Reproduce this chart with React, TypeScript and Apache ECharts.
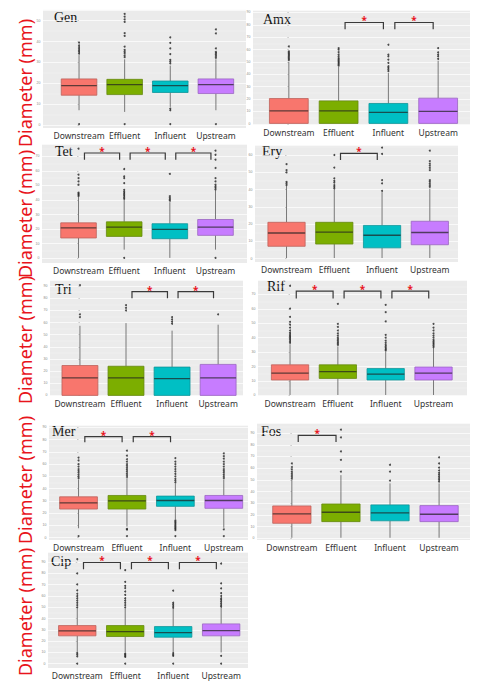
import React, { useEffect, useRef } from "react";
import * as echarts from "echarts";

const CATEGORIES = ["Downstream", "Effluent", "Influent", "Upstream"];
const PANEL_NAMES = ["Gen", "Amx", "Tet", "Ery", "Tri", "Rif", "Mer", "Fos", "Cip"];
const Y_LABEL = "Diameter (mm)";

// box stats per category: [low whisker, Q1, median, Q3, high whisker]
const GEN_BOX = [[7.1, 14.3, 18.9, 22.1, 33.5], [6.3, 14.6, 19.4, 21.9, 31.5], [8.7, 15.6, 18.9, 21.1, 28.5], [7.1, 15.1, 19.4, 22.1, 31.5]];
const GEN_OUT = [[0.5, 34.2, 35, 35.8, 36.5, 37.3, 38.2, 39.5], [0.5, 32.5, 33.4, 34.4, 35.2, 36, 37.6, 42.7, 44, 49.4, 50.6, 51.9, 53.2], [0.5, 7.1, 7.9, 29.5, 30.4, 31.2, 34, 36.7, 39.4, 42], [0.5, 32.2, 33, 33.7, 34.4, 35, 36.7, 43.9, 45.8]];
const GEN_SIG: number[][] = [];
const GEN_Y = [-1.4, 55.1];

const AMX_BOX = [[0.3, 0.3, 10.5, 20.4, 50], [0.3, 0.3, 10.5, 18.5, 46], [0.3, 0.3, 9.2, 16.4, 41], [0.3, 0.3, 10, 20.7, 51]];
const AMX_OUT = [[51.5, 52.5, 53.5, 54.5, 55.5, 56.5, 57.5, 58.5, 62.5], [47, 48, 49, 50, 51, 52, 53, 54.5, 56, 58, 59.9, 61.2], [42.5, 43.9, 45.2, 46.5, 49.2, 51.9, 54.5, 55.9, 63.9], [52.4, 54.5, 55.9, 57.7, 61.2]];
const AMX_SIG = [[1, 81.9, 76.5], [2, 81.9, 76.5]];
const AMX_Y = [-1, 92];

const TET_BOX = [[0.2, 13.9, 20.9, 24.3, 42], [5.9, 15, 21.4, 25, 40], [0.2, 13.4, 19.8, 23.7, 38.5], [5.9, 15.7, 21.4, 26.6, 46.5]];
const TET_OUT = [[42.7, 43.5, 44.3, 45, 50.5, 52.8, 55, 57.4, 75.3], [0.2, 40.8, 41.8, 42.8, 43.8, 44.8, 45.8, 47, 51.6, 55, 56.3, 61.3], [39.5, 40.5, 41.5, 42.7, 57.9], [0.2, 47.2, 48.3, 49.4, 50.5, 52.8, 55, 62, 67.7, 71.1, 73.9]];
const TET_SIG = [[0, 72.3, 67.7], [1, 72.3, 67.7], [2, 72.3, 67.7]];
const TET_Y = [-3.3, 78.5];

const ERY_BOX = [[0.3, 7.1, 14.8, 21, 42], [0.3, 8.4, 15.3, 21, 40], [0.3, 6.2, 13.5, 19.2, 38.5], [0.3, 8, 15.1, 21.6, 40.5]];
const ERY_OUT = [[42.6, 43.5, 44.4, 49.9, 51.2, 54.7], [40.6, 41.6, 42.6, 44, 45, 46.5, 52.7, 60], [39.2, 43.6, 45.5, 60.6, 64.3], [41.6, 42.6, 43.6, 44.6, 45.5, 51.2, 52.5, 53.8, 55, 56.5, 62.5]];
const ERY_SIG = [[1, 61, 57.1]];
const ERY_Y = [-2, 65.8];

const TRI_BOX = [[0, 0, 14.4, 24.6, 57.3], [0, 0, 14.4, 24, 59.5], [0, 0, 13.8, 23.3, 53.3], [0, 0, 14.4, 25.5, 58.2]];
const TRI_OUT = [[64.5, 66.7, 90.7], [69.9, 72.1, 74.3], [59, 60.7, 62.5, 64.5], [66.7]];
const TRI_SIG = [[1, 85.5, 80], [2, 85.5, 80]];
const TRI_Y = [-0.5, 95];

const RIF_BOX = [[0.3, 10.7, 15.5, 21.2, 35.5], [0.3, 11.8, 16.5, 21.2, 34], [0.3, 10.7, 14.8, 18.6, 30.5], [0.3, 10.7, 15.5, 19.7, 33]];
const RIF_OUT = [[36.5, 37.5, 38.5, 39.5, 40.5, 41.5, 42.5, 43.5, 45, 47, 49, 51, 54.5, 60.2, 76], [35, 36, 37, 38, 39, 40, 41.5, 43, 45, 47.5, 49.6, 63.5], [31.2, 32, 33, 34, 35, 36.5, 38, 40, 42, 51.3, 57.7, 62.8], [33.5, 34.5, 35.5, 36.5, 37.5, 38.5, 40, 41.5, 43, 45, 47, 49.6]];
const RIF_SIG = [[0, 72.3, 67.2], [1, 72.3, 67.2], [2, 72.3, 67.2]];
const RIF_Y = [-0.4, 80];

const MER_BOX = [[7.6, 23.3, 28.3, 33.3, 47.5], [9, 23.3, 30, 34.4, 48.5], [15, 25.5, 30.3, 33.9, 44], [8, 23.9, 30.3, 34.4, 47.5]];
const MER_OUT = [[1.2, 48.5, 50, 51.5, 53, 54.5, 56, 58, 60, 63, 65.4], [1.2, 6.5, 7, 49.5, 51, 52.5, 54, 55.5, 57, 58.5, 60, 62, 64, 66.9, 71], [1.2, 6, 7, 8, 9, 10, 11, 12, 13, 14, 45, 46.5, 48, 50, 52, 54, 56, 58, 60, 62, 65], [1.2, 6.7, 48.5, 50, 51.5, 53, 54.5, 56, 58, 60, 62, 64.5, 66.5, 68.8]];
const MER_SIG = [[0, 82.5, 77.8], [1, 82.5, 77.8]];
const MER_Y = [-2, 92];

const FOS_BOX = [[0.5, 12.9, 20.9, 27.7, 50], [0.5, 14.3, 22.3, 29.4, 54], [0.5, 15, 21.7, 28.6, 47], [0.5, 14.3, 20.6, 28, 47]];
const FOS_OUT = [[51, 52.5, 54, 55.5, 57, 59, 61, 64], [57.1, 67.1, 74.3, 86.3, 92.9], [49.4, 57.1, 62.9], [48.5, 50, 51.5, 53, 54.5, 56, 58, 60.5, 64, 69.3]];
const FOS_SIG = [[0, 88, 82.3]];
const FOS_Y = [-1.4, 98.6];

const CIP_BOX = [[10, 24.7, 29.1, 33.8, 49], [10, 24.1, 28.5, 33.8, 49], [10, 23.5, 27.6, 32.9, 48.5], [10, 24.7, 29.4, 35.3, 49.5]];
const CIP_OUT = [[0, 6.5, 8, 9.4, 50, 52, 54, 56, 58, 60, 62, 65, 70.3, 80, 92.6], [0, 6, 7, 8, 9, 50, 52, 54, 56, 58, 61, 64, 67, 69, 72.6, 83], [0, 7, 8, 9.4, 49.5, 51, 52.5, 54, 64.7], [0, 7, 50.5, 52, 53.5, 55, 56.5, 58, 60, 62.5, 66.8, 71.2, 88.8]];
const CIP_SIG = [[0, 89.7, 83.8], [1, 89.7, 83.8], [2, 89.7, 83.8]];
const CIP_Y = [-3.8, 99];

const BOXES = [GEN_BOX, AMX_BOX, TET_BOX, ERY_BOX, TRI_BOX, RIF_BOX, MER_BOX, FOS_BOX, CIP_BOX];
const OUTLIERS = [GEN_OUT, AMX_OUT, TET_OUT, ERY_OUT, TRI_OUT, RIF_OUT, MER_OUT, FOS_OUT, CIP_OUT];
const SIGS = [GEN_SIG, AMX_SIG, TET_SIG, ERY_SIG, TRI_SIG, RIF_SIG, MER_SIG, FOS_SIG, CIP_SIG];
const Y_RANGES = [GEN_Y, AMX_Y, TET_Y, ERY_Y, TRI_Y, RIF_Y, MER_Y, FOS_Y, CIP_Y];

// layout (pixels): [left, top, right, bottom]
const RECTS = [
  [43, 10, 246, 128], [253, 10, 470, 125],
  [42, 144, 247, 263], [255, 145, 458, 262],
  [50, 280, 243, 396], [258, 280, 467, 396],
  [49, 425, 248, 540], [257, 423, 470, 540],
  [48, 552, 248, 668],
];
const X_RANGES = [
  [-0.79, 3.66], [-0.72, 3.64], [-0.8, 3.69], [-0.66, 3.59], [-0.65, 3.54],
  [-0.67, 3.7], [-0.61, 3.5], [-0.71, 3.63], [-0.61, 3.56],
];
const TITLE_OFFSETS = [[11, 0], [10, 2], [13, 0], [7, -1], [5, 2], [9, -1], [3, -1], [4, 1], [3, 2]];
const YLABEL_CENTERS = [83, 214, 340, 480, 612];

const FILLS = ["#F8766D", "#7CAE00", "#00BFC4", "#C77CFF"];
const RED = "#e8141c";

function mix(a: string, b: string, t: number) {
  const p = (h: string) => [1, 3, 5].map((i) => parseInt(h.slice(i, i + 2), 16));
  const pa = p(a), pb = p(b);
  const c = pa.map((v, i) => Math.round(v * (1 - t) + pb[i] * t));
  return `rgb(${c[0]},${c[1]},${c[2]})`;
}

function buildOption() {
  const grid: any[] = [];
  const xAxis: any[] = [];
  const yAxis: any[] = [];
  const series: any[] = [];
  const graphic: any[] = [];

  PANEL_NAMES.forEach((name, i) => {
    const [l, t, r, b] = RECTS[i];
    grid.push({ left: l, top: t, width: r - l, height: b - t, show: true, backgroundColor: "#ebebeb", borderWidth: 0 });
    xAxis.push({
      type: "value", gridIndex: i, min: X_RANGES[i][0], max: X_RANGES[i][1], splitNumber: 4,
      axisLine: { show: false }, axisTick: { show: false }, splitLine: { show: false },
      axisLabel: {
        showMinLabel: false, showMaxLabel: false, margin: 2, fontSize: 8.5, color: "#333333",
        fontFamily: "Noto Sans", lineHeight: 10,
        formatter: (v: number) => {
          const k = Math.round(v);
          return Math.abs(v - k) < 1e-6 && k >= 0 && k < CATEGORIES.length ? CATEGORIES[k] : "";
        },
      },
    });
    const span = Y_RANGES[i][1] - Y_RANGES[i][0];
    yAxis.push({
      type: "value", gridIndex: i, min: Y_RANGES[i][0], max: Y_RANGES[i][1], splitNumber: Math.round(span / 10),
      axisLine: { show: false },
      axisTick: { show: true, length: 1.5, lineStyle: { color: "#9a9a9a", width: 0.5 } },
      axisLabel: { inside: false, fontSize: 3.5, color: "#8a8a8a", margin: 2.5, showMinLabel: false, showMaxLabel: false },
      splitLine: { show: true, lineStyle: { color: "#ffffff", width: 0.7 } },
      minorTick: { show: false, splitNumber: 2 },
      minorSplitLine: { show: true, lineStyle: { color: "#f6f6f6", width: 0.4 } },
    });

    series.push({
      type: "custom", xAxisIndex: i, yAxisIndex: i, silent: true,
      data: BOXES[i].map((s, c) => [c, ...s]),
      encode: { x: 0, y: [1, 2, 3, 4, 5] },
      renderItem: (params: any, api: any) => {
        const x = api.value(0);
        const c = params.dataIndex;
        const pl = api.coord([x, api.value(1)]);
        const p1 = api.coord([x, api.value(2)]);
        const pm = api.coord([x, api.value(3)]);
        const p3 = api.coord([x, api.value(4)]);
        const ph = api.coord([x, api.value(5)]);
        const w = api.size([0.78, 0])[0];
        const wh = { stroke: "#5a5a5a", lineWidth: 0.8 };
        return {
          type: "group",
          children: [
            { type: "line", shape: { x1: pl[0], y1: pl[1], x2: p1[0], y2: p1[1] }, style: wh },
            { type: "line", shape: { x1: p3[0], y1: p3[1], x2: ph[0], y2: ph[1] }, style: wh },
            {
              type: "rect",
              shape: { x: pm[0] - w / 2, y: p3[1], width: w, height: p1[1] - p3[1] },
              style: { fill: FILLS[c], stroke: mix(FILLS[c], "#333333", 0.3), lineWidth: 0.8 },
            },
            {
              type: "line",
              shape: { x1: pm[0] - w / 2, y1: pm[1], x2: pm[0] + w / 2, y2: pm[1] },
              style: { stroke: mix(FILLS[c], "#222222", 0.72), lineWidth: 1.3 },
            },
          ],
        };
      },
    });

    series.push({
      type: "scatter", xAxisIndex: i, yAxisIndex: i, silent: true,
      symbolSize: 2, itemStyle: { color: "#222222" },
      data: OUTLIERS[i].flatMap((vals, c) => vals.map((v) => [c, v])),
    });

    if (SIGS[i].length) {
      series.push({
        type: "custom", xAxisIndex: i, yAxisIndex: i, silent: true,
        data: SIGS[i],
        encode: { x: 0, y: [1, 2] },
        renderItem: (_p: any, api: any) => {
          const s = api.value(0), top = api.value(1), leg = api.value(2);
          const a = api.coord([s + 0.13, leg]);
          const bb = api.coord([s + 0.13, top]);
          const cc = api.coord([s + 0.9, top]);
          const d = api.coord([s + 0.9, leg]);
          return {
            type: "group",
            children: [
              { type: "polyline", shape: { points: [a, bb, cc, d] }, style: { stroke: "#3a3a3a", lineWidth: 1.2, fill: null } },
              {
                type: "text", x: (bb[0] + cc[0]) / 2, y: bb[1] - 2,
                style: {
                  text: "*", fill: RED, font: 'bold 10px "Noto Sans"', lineHeight: 6,
                  align: "center", verticalAlign: "middle", textAlign: "center", textVerticalAlign: "middle",
                },
              },
            ],
          };
        },
      });
    }

    graphic.push({
      type: "text", x: l + TITLE_OFFSETS[i][0], y: t + TITLE_OFFSETS[i][1],
      style: {
        text: name, font: '14px "Liberation Serif"', fill: "#111111",
        align: "left", verticalAlign: "top", textAlign: "left", textVerticalAlign: "top",
      },
    });
  });

  YLABEL_CENTERS.forEach((cy) => {
    graphic.push({
      type: "text", x: 25, y: cy, rotation: Math.PI / 2,
      style: {
        text: Y_LABEL, font: '18px "Noto Sans"', fill: RED,
        align: "center", verticalAlign: "middle", textAlign: "center", textVerticalAlign: "middle",
      },
    });
  });

  return { animation: false, backgroundColor: "#ffffff", grid, xAxis, yAxis, series, graphic };
}

export default function App() {
  const ref = useRef<HTMLDivElement>(null);
  useEffect(() => {
    if (!ref.current) return;
    const chart = echarts.init(ref.current, null, { renderer: "svg" });
    chart.setOption(buildOption() as any);
    return () => chart.dispose();
  }, []);
  return <div ref={ref} style={{ position: "absolute", left: 0, top: 0, width: 478, height: 694 }} />;
}
